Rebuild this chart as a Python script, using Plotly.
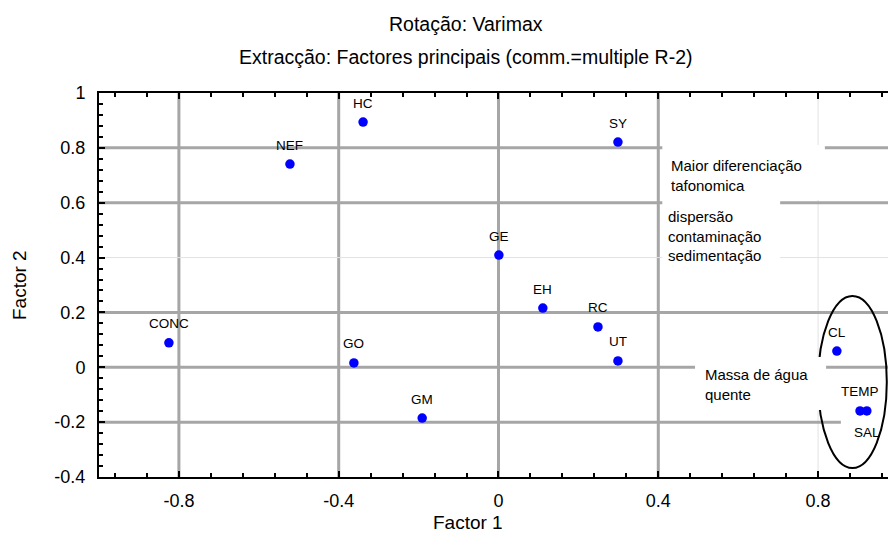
import plotly.graph_objects as go

# ---- data ----
labels = ["HC", "NEF", "SY", "GE", "CONC", "GO", "GM", "EH", "RC", "UT", "CL", "TEMP", "SAL"]
factor1 = [-0.339, -0.522, 0.299, 0.001, -0.825, -0.362, -0.191, 0.111, 0.249, 0.299, 0.847, 0.905, 0.922]
factor2 = [0.894, 0.741, 0.821, 0.409, 0.089, 0.016, -0.185, 0.216, 0.147, 0.023, 0.059, -0.159, -0.159]
label_side = ["top"] * 11 + ["top", "bottom"]

x_tick_vals = [-0.8, -0.4, 0, 0.4, 0.8]
x_tick_text = ["-0.8", "-0.4", "0", "0.4", "0.8"]
y_tick_vals = [-0.4, -0.2, 0, 0.2, 0.4, 0.6, 0.8, 1]
y_tick_text = ["-0.4", "-0.2", "0", "0.2", "0.4", "0.6", "0.8", "1"]
x_thin_grid = [0.8]
y_thin_grid = [0.4]

title1 = "Rotação: Varimax"
title2 = "Extracção: Factores principais (comm.=multiple R-2)"
xlabel = "Factor 1"
ylabel = "Factor 2"
box_texts = ["Maior diferenciação<br>tafonomica",
             "dispersão<br>contaminação<br>sedimentação",
             "Massa de água<br>quente"]

XR = [-1, 0.975]
YR = [-0.4, 1]
FONT = "Liberation Sans, Arial, sans-serif"
GRID = "#a6a6a6"
THIN = "#e2e2e2"

fig = go.Figure()
fig.add_trace(go.Scatter(x=factor1, y=factor2, mode="markers",
                         marker=dict(color="#0000ff", size=9.5, line=dict(width=0)),
                         hoverinfo="text", text=labels, showlegend=False))

shapes = []
# grid lines
for v in x_tick_vals:
    thin = v in x_thin_grid
    shapes.append(dict(type="line", layer="between", xref="x", yref="y", x0=v, x1=v, y0=YR[0], y1=YR[1],
                       line=dict(color=THIN if thin else GRID, width=1 if thin else 3)))
for v in y_tick_vals[1:-1]:
    thin = v in y_thin_grid
    shapes.append(dict(type="line", layer="between", xref="x", yref="y", x0=XR[0], x1=XR[1], y0=v, y1=v,
                       line=dict(color=THIN if thin else GRID, width=1 if thin else 3)))
# white patch covering part of -0.2 line near labels
shapes.append(dict(type="rect", layer="between", xref="x", yref="y", x0=0.857, x1=0.975, y0=-0.215, y1=-0.185,
                   fillcolor="white", line=dict(width=0)))
# ellipse
shapes.append(dict(type="circle", layer="between", xref="x", yref="y", x0=0.80, x1=0.972, y0=-0.367, y1=0.26,
                   line=dict(color="black", width=2), fillcolor="rgba(0,0,0,0)"))
# text boxes (white)
for (a, b, c, d) in [(0.41, 0.817, 0.61, 0.81), (0.41, 0.705, 0.336, 0.61), (0.492, 0.820, -0.156, 0.0375)]:
    shapes.append(dict(type="rect", layer="between", xref="x", yref="y", x0=a, x1=b, y0=c, y1=d,
                       fillcolor="white", line=dict(width=0)))

annotations = []
for lab, xv, yv, side in zip(labels, factor1, factor2, label_side):
    annotations.append(dict(x=xv, y=yv, xref="x", yref="y", text=lab, showarrow=False,
                            yshift=19 if side == "top" else -22, xanchor="center", yanchor="middle",
                            font=dict(family=FONT, size=13.5, color="black")))
for txt, xv, yv in zip(box_texts, [0.427, 0.419, 0.512], [0.701, 0.477, -0.0645]):
    annotations.append(dict(x=xv, y=yv, xref="x", yref="y", text=txt, showarrow=False, align="left",
                            xanchor="left", yanchor="middle", font=dict(family=FONT, size=15, color="black")))
# titles
cx = (466 - 99) / 789
annotations.append(dict(x=cx, y=1, xref="paper", yref="paper", text=title1, showarrow=False,
                        yshift=93 - 24, yanchor="middle", xanchor="center",
                        font=dict(family=FONT, size=19.5, color="black")))
annotations.append(dict(x=cx, y=1, xref="paper", yref="paper", text=title2, showarrow=False,
                        yshift=93 - 57, yanchor="middle", xanchor="center",
                        font=dict(family=FONT, size=19.5, color="black")))
annotations.append(dict(x=(468 - 99) / 789, y=0, xref="paper", yref="paper", text=xlabel, showarrow=False,
                        yshift=-(522 - 477), yanchor="middle", xanchor="center",
                        font=dict(family=FONT, size=19, color="black")))
annotations.append(dict(x=0, y=(477 - 285) / 384, xref="paper", yref="paper", text=ylabel, showarrow=False,
                        xshift=-(99 - 19), textangle=-90, yanchor="middle", xanchor="center",
                        font=dict(family=FONT, size=19, color="black")))

fig.update_layout(
    width=888, height=548,
    margin=dict(l=99, r=0, t=93, b=71),
    paper_bgcolor="white", plot_bgcolor="white",
    font=dict(family=FONT, color="black"),
    shapes=shapes, annotations=annotations,
    xaxis=dict(range=XR, showgrid=False, zeroline=False, showline=True, linecolor="black", linewidth=2,
               mirror="ticks", ticks="inside", ticklen=6, tickwidth=1.5, tickcolor="black",
               tickmode="array", tickvals=x_tick_vals, ticktext=x_tick_text,
               tickfont=dict(family=FONT, size=18, color="black"), ticklabelstandoff=6,
               minor=dict(ticks="inside", tick0=-0.96, dtick=0.08, ticklen=4, tickcolor="black", tickwidth=1.5)),
    yaxis=dict(range=YR, showgrid=False, zeroline=False, showline=True, linecolor="black", linewidth=2,
               ticks="inside", ticklen=6, tickwidth=1.5, tickcolor="black",
               tickmode="array", tickvals=y_tick_vals, ticktext=y_tick_text,
               tickfont=dict(family=FONT, size=18, color="black"), ticklabelstandoff=8,
               minor=dict(ticks="inside", tick0=-0.4, dtick=0.04, ticklen=4, tickcolor="black", tickwidth=1.5)),
)

fig.write_html("out.html")
